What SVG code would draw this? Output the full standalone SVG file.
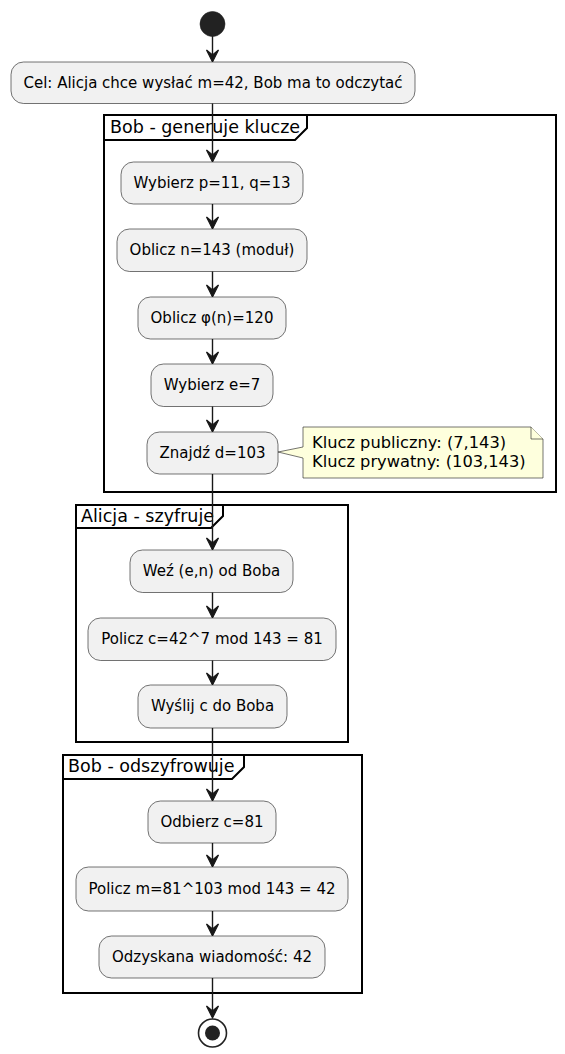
<svg xmlns="http://www.w3.org/2000/svg" width="565" height="1054" viewBox="0 0 565 1054">
<style>
.bg{fill:#FFFFFF}
.act{fill:#F1F1F1;stroke:#181818;stroke-width:0.6}
.t{font-family:"DejaVu Sans",sans-serif;font-size:15px;fill:#000000;text-anchor:middle}
.frame{fill:none;stroke:#000000;stroke-width:2}
.ft{font-family:"DejaVu Sans",sans-serif;font-size:17.5px;fill:#000000}
.note{fill:#FEFFDD;stroke:#181818;stroke-width:0.6}
.nt{font-family:"DejaVu Sans",sans-serif;font-size:16.25px;fill:#000000}
.edge{fill:none;stroke:#181818;stroke-width:1.4}
.head{fill:#181818;stroke:#181818;stroke-width:1.2}
</style>
<defs>
<path id="arrowhead" d="M-6,-12 L0,0 L6,-12 L0,-7 Z"/>
</defs>
<rect class="bg" x="0" y="0" width="565" height="1054"/>

<g id="frame-bob-generuje">
<rect class="frame" x="104" y="115" width="452" height="377"/>
<path class="frame" d="M104,140 L295,140 L307,128 L307,115"/>
<text class="ft" x="110" y="133">Bob - generuje klucze</text>
</g>
<g id="frame-alicja">
<rect class="frame" x="76" y="505" width="272" height="237"/>
<path class="frame" d="M76,528 L211,528 L223,516 L223,505"/>
<text class="ft" x="81" y="522">Alicja - szyfruje</text>
</g>
<g id="frame-bob-odszyfrowuje">
<rect class="frame" x="63" y="755" width="299" height="238"/>
<path class="frame" d="M63,779 L232,779 L244,767 L244,755"/>
<text class="ft" x="68" y="772">Bob - odszyfrowuje</text>
</g>

<g id="connectors">
<path class="edge" d="M212.5,36 L212.5,61"/>
<use href="#arrowhead" class="head" x="212.5" y="62"/>
<path class="edge" d="M212.5,103 L212.5,161"/>
<use href="#arrowhead" class="head" x="212.5" y="162"/>
<path class="edge" d="M212.5,204 L212.5,228"/>
<use href="#arrowhead" class="head" x="212.5" y="229"/>
<path class="edge" d="M212.5,271 L212.5,296"/>
<use href="#arrowhead" class="head" x="212.5" y="297"/>
<path class="edge" d="M212.5,339 L212.5,363"/>
<use href="#arrowhead" class="head" x="212.5" y="364"/>
<path class="edge" d="M212.5,406 L212.5,431"/>
<use href="#arrowhead" class="head" x="212.5" y="432"/>
<path class="edge" d="M212.5,474 L212.5,549"/>
<use href="#arrowhead" class="head" x="212.5" y="550"/>
<path class="edge" d="M212.5,592 L212.5,617"/>
<use href="#arrowhead" class="head" x="212.5" y="618"/>
<path class="edge" d="M212.5,660 L212.5,684"/>
<use href="#arrowhead" class="head" x="212.5" y="685"/>
<path class="edge" d="M212.5,728 L212.5,800"/>
<use href="#arrowhead" class="head" x="212.5" y="801"/>
<path class="edge" d="M212.5,843 L212.5,866"/>
<use href="#arrowhead" class="head" x="212.5" y="867"/>
<path class="edge" d="M212.5,911 L212.5,935"/>
<use href="#arrowhead" class="head" x="212.5" y="936"/>
<path class="edge" d="M212.5,978 L212.5,1017"/>
<use href="#arrowhead" class="head" x="212.5" y="1018"/>
</g>

<g id="start">
<circle cx="212.5" cy="24" r="12.5" fill="#222222" stroke="#222222" stroke-width="0.6"/>
</g>
<g id="cel">
<rect class="act" x="11" y="62" width="404" height="41.5" rx="12.5"/>
<text class="t" x="213" y="88">Cel: Alicja chce wysłać m=42, Bob ma to odczytać</text>
</g>
<g id="wybierz-pq">
<rect class="act" x="121" y="162" width="182" height="42" rx="12.5"/>
<text class="t" x="212" y="188">Wybierz p=11, q=13</text>
</g>
<g id="oblicz-n">
<rect class="act" x="117" y="229" width="190" height="42.5" rx="12.5"/>
<text class="t" x="212" y="255">Oblicz n=143 (moduł)</text>
</g>
<g id="oblicz-phi">
<rect class="act" x="138" y="297" width="148" height="42" rx="12.5"/>
<text class="t" x="212" y="323">Oblicz φ(n)=120</text>
</g>
<g id="wybierz-e">
<rect class="act" x="151" y="364" width="122" height="42.5" rx="12.5"/>
<text class="t" x="212" y="390">Wybierz e=7</text>
</g>
<g id="znajdz-d">
<rect class="act" x="147" y="432" width="131" height="42" rx="12.5"/>
<text class="t" x="212.5" y="458">Znajdź d=103</text>
</g>
<g id="note-klucze">
<path class="note" d="M303,427 L531,427 L543,439 L543,478 L303,478 L303,458 L278,452 L303,447 Z"/>
<path class="note" d="M531,427 L531,439 L543,439"/>
<text class="nt" x="312" y="448">Klucz publiczny: (7,143)</text>
<text class="nt" x="312" y="467">Klucz prywatny: (103,143)</text>
</g>
<g id="wez-en">
<rect class="act" x="130" y="550" width="163" height="42.5" rx="12.5"/>
<text class="t" x="211.5" y="576">Weź (e,n) od Boba</text>
</g>
<g id="policz-c">
<rect class="act" x="88" y="618" width="248" height="42.5" rx="12.5"/>
<text class="t" x="212" y="644">Policz c=42^7 mod 143 = 81</text>
</g>
<g id="wyslij-c">
<rect class="act" x="138" y="685" width="149" height="43" rx="12.5"/>
<text class="t" x="212.5" y="711">Wyślij c do Boba</text>
</g>
<g id="odbierz-c">
<rect class="act" x="148" y="801" width="128" height="42" rx="12.5"/>
<text class="t" x="212" y="827">Odbierz c=81</text>
</g>
<g id="policz-m">
<rect class="act" x="76" y="867" width="272" height="44" rx="12.5"/>
<text class="t" x="212" y="894">Policz m=81^103 mod 143 = 42</text>
</g>
<g id="odzyskana">
<rect class="act" x="99" y="936" width="226" height="42" rx="12.5"/>
<text class="t" x="212" y="962">Odzyskana wiadomość: 42</text>
</g>
<g id="end">
<circle cx="212.5" cy="1033" r="14" fill="none" stroke="#222222" stroke-width="1.6"/>
<circle cx="212.5" cy="1033" r="7.5" fill="#222222"/>
</g>
</svg>
